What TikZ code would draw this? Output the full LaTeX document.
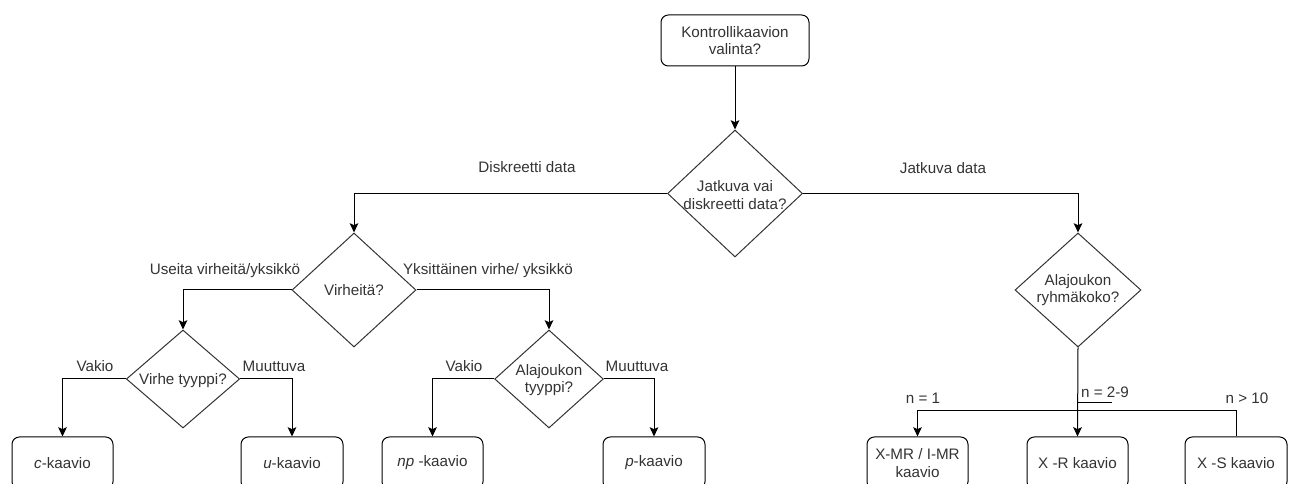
\documentclass[tikz,border=0pt]{standalone}
\usepackage{fontspec}
\setmainfont{Liberation Sans}
\usetikzlibrary{shapes.geometric,arrows.meta}
\definecolor{txtc}{RGB}{51,51,51}
\tikzset{
  every node/.style={font=\fontsize{11.4}{13.3}\selectfont, text=txtc},
  box/.style={draw=black, line width=0.75pt, rounded corners=5.5pt, inner sep=0pt, align=center},
  dia/.style={draw=black!80, line width=0.75pt, diamond, inner sep=0pt},
  txt/.style={align=center, inner sep=0pt},
  lbl/.style={inner sep=0pt},
  conn/.style={line width=0.75pt, draw=black},
  arr/.style={conn, -{Stealth[length=7pt,width=6.5pt,inset=1.5pt]}},
}
\begin{document}
\begin{tikzpicture}[x=0.75pt,y=-0.75pt]
\useasboundingbox (0,0) rectangle (1297,484);
\begin{scope}
\clip (0,0) rectangle (1297,484);
% top box
\node[box, minimum width=111pt, minimum height=38.25pt] (start) at (735,40.5) {Kontrollikaavion\\valinta?};
% diamonds
\node[dia, minimum width=101.25pt, minimum height=95.25pt] (d1) at (735,193.5) {};
\node[txt] (d1t) at (735,195) {Jatkuva vai\\diskreetti data?};
\node[dia, minimum width=93pt, minimum height=85.5pt] (d2) at (354,290) {};
\node[txt] (d2t) at (354,290) {Virheitä?};
\node[dia, minimum width=94.5pt, minimum height=85.5pt] (d3) at (1078,290) {};
\node[txt] (d3t) at (1078,290) {Alajoukon\\ryhmäkoko?};
\node[dia, minimum width=85pt, minimum height=73.5pt] (d4) at (183,379) {};
\node[txt] (d4t) at (183,381) {Virhe tyyppi?};
\node[dia, minimum width=81.5pt, minimum height=73.5pt] (d5) at (549,379) {};
\node[txt] (d5t) at (549,380) {Alajoukon\\tyyppi?};
% boxes
\node[box, minimum width=75.75pt, minimum height=39pt] (c) at (62.5,463) {\textit{c}-kaavio};
\node[box, minimum width=76.5pt, minimum height=39pt] (u) at (292,463) {\textit{u}-kaavio};
\node[box, minimum width=75.75pt, minimum height=39pt] (np) at (432.5,463) {\textit{np} -kaavio};
\node[box, minimum width=76.5pt, minimum height=39pt] (p) at (654,463) {\textit{p}-kaavio};
\node[box, minimum width=75.75pt, minimum height=39pt] (xmr) at (917.5,463) {X-MR / I-MR\\kaavio};
\node[box, minimum width=75.75pt, minimum height=39pt] (xr) at (1077.5,463) {X -R kaavio};
\node[box, minimum width=76.5pt, minimum height=39pt] (xs) at (1236,463) {X -S kaavio};
\end{scope}
% connectors
\draw[arr] (start.south) -- (d1.north);
\draw[arr] (d1.west) -| (d2.north);
\draw[arr] (d1.east) -| (d3.north);
\draw[arr] (d2.west) -| (d4.north);
\draw[arr] (d2.east) -| (d5.north);
\draw[arr] (d4.west) -| (c.north);
\draw[arr] (d4.east) -| (u.north);
\draw[arr] (d5.west) -| (np.north);
\draw[arr] (d5.east) -| (p.north);
\draw[arr] (d3.south) -- (xr.north);
\coordinate (hj) at (1236,411);
\draw[arr] (xs.north) -- (hj) -| (xmr.north);
\coordinate (s1) at (1078,403);
\coordinate (s2) at (1112,403);
\draw[conn] (s1) -- (s2);
% labels
\node[lbl] (l1) at (527,167) {Diskreetti data};
\node[lbl] (l2) at (943,168) {Jatkuva data};
\node[lbl] (l3) at (225,271) {Useita virheitä/yksikkö};
\node[lbl] (l4) at (488,271) {Yksittäinen virhe/ yksikkö};
\node[lbl] (l5) at (95,366) {Vakio};
\node[lbl] (l6) at (274,366) {Muuttuva};
\node[lbl] (l7) at (464,366) {Vakio};
\node[lbl] (l8) at (637,366) {Muuttuva};
\node[lbl] (l9) at (923,398) {n = 1};
\node[lbl] (l10) at (1105,392) {n = 2-9};
\node[lbl] (l11) at (1247,398) {n > 10};
\end{tikzpicture}
\end{document}
